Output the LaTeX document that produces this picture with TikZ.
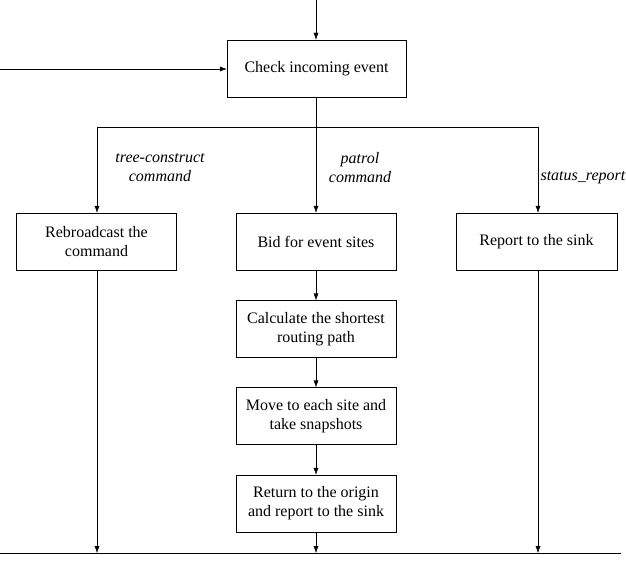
\documentclass[tikz,border=0pt]{standalone}
\usepackage{fontspec}
\setmainfont{Liberation Serif}
\usetikzlibrary{arrows.meta}
\begin{document}
\begin{tikzpicture}[x=1pt,y=-1pt,
  box/.style={draw,minimum width=160pt,minimum height=57pt,align=center,font=\fontsize{16}{19}\selectfont,inner sep=2pt},
  lbl/.style={align=center,font=\itshape\fontsize{16}{19}\selectfont},
  arr/.style={-{Latex[length=7pt,width=5pt]}}]
\useasboundingbox (0,0) rectangle (626,567);
\node[box,minimum width=179pt] (chk) at (316.5,68.5) {Check incoming event};
\node[box] (reb) at (96.5,241.5) {Rebroadcast the\\command};
\node[box] (bid) at (316,241.5) {Bid for event sites};
\node[box,minimum width=161pt] (rep) at (536.5,241.5) {Report to the sink};
\node[box] (calc) at (316,329) {Calculate the shortest\\routing path};
\node[box] (move) at (316,416) {Move to each site and\\take snapshots};
\node[box] (ret) at (316,503.5) {Return to the origin\\and report to the sink};
\coordinate (top) at (316,0);
\coordinate (lin) at (0,69);
\coordinate (sl) at (97,127);
\coordinate (sr) at (538,127);
\coordinate (bl) at (0,553);
\coordinate (br) at (621,553);
\node[lbl] (l1) at (160,168) {tree-construct\\command};
\node[lbl] (l2) at (360,168) {patrol\\command};
\node[lbl,anchor=west] (l3) at (537,178) {status\_report};
\draw[arr] (top) -- (chk.north -| top);
\draw[arr] (lin) -- (chk.west |- lin);
\draw[arr] (chk.south -| top) -- (bid.north -| top);
\draw (sl) -- (sr);
\draw[arr] (sl) -- (reb.north -| sl);
\draw[arr] (sr) -- (rep.north -| sr);
\draw[arr] (bid) -- (calc);
\draw[arr] (calc) -- (move);
\draw[arr] (move) -- (ret);
\draw (bl) -- (br);
\draw[arr] (reb.south -| sl) -- (sl |- bl);
\draw[arr] (ret.south) -- (ret.south |- bl);
\draw[arr] (rep.south -| sr) -- (sr |- bl);
\end{tikzpicture}
\end{document}
